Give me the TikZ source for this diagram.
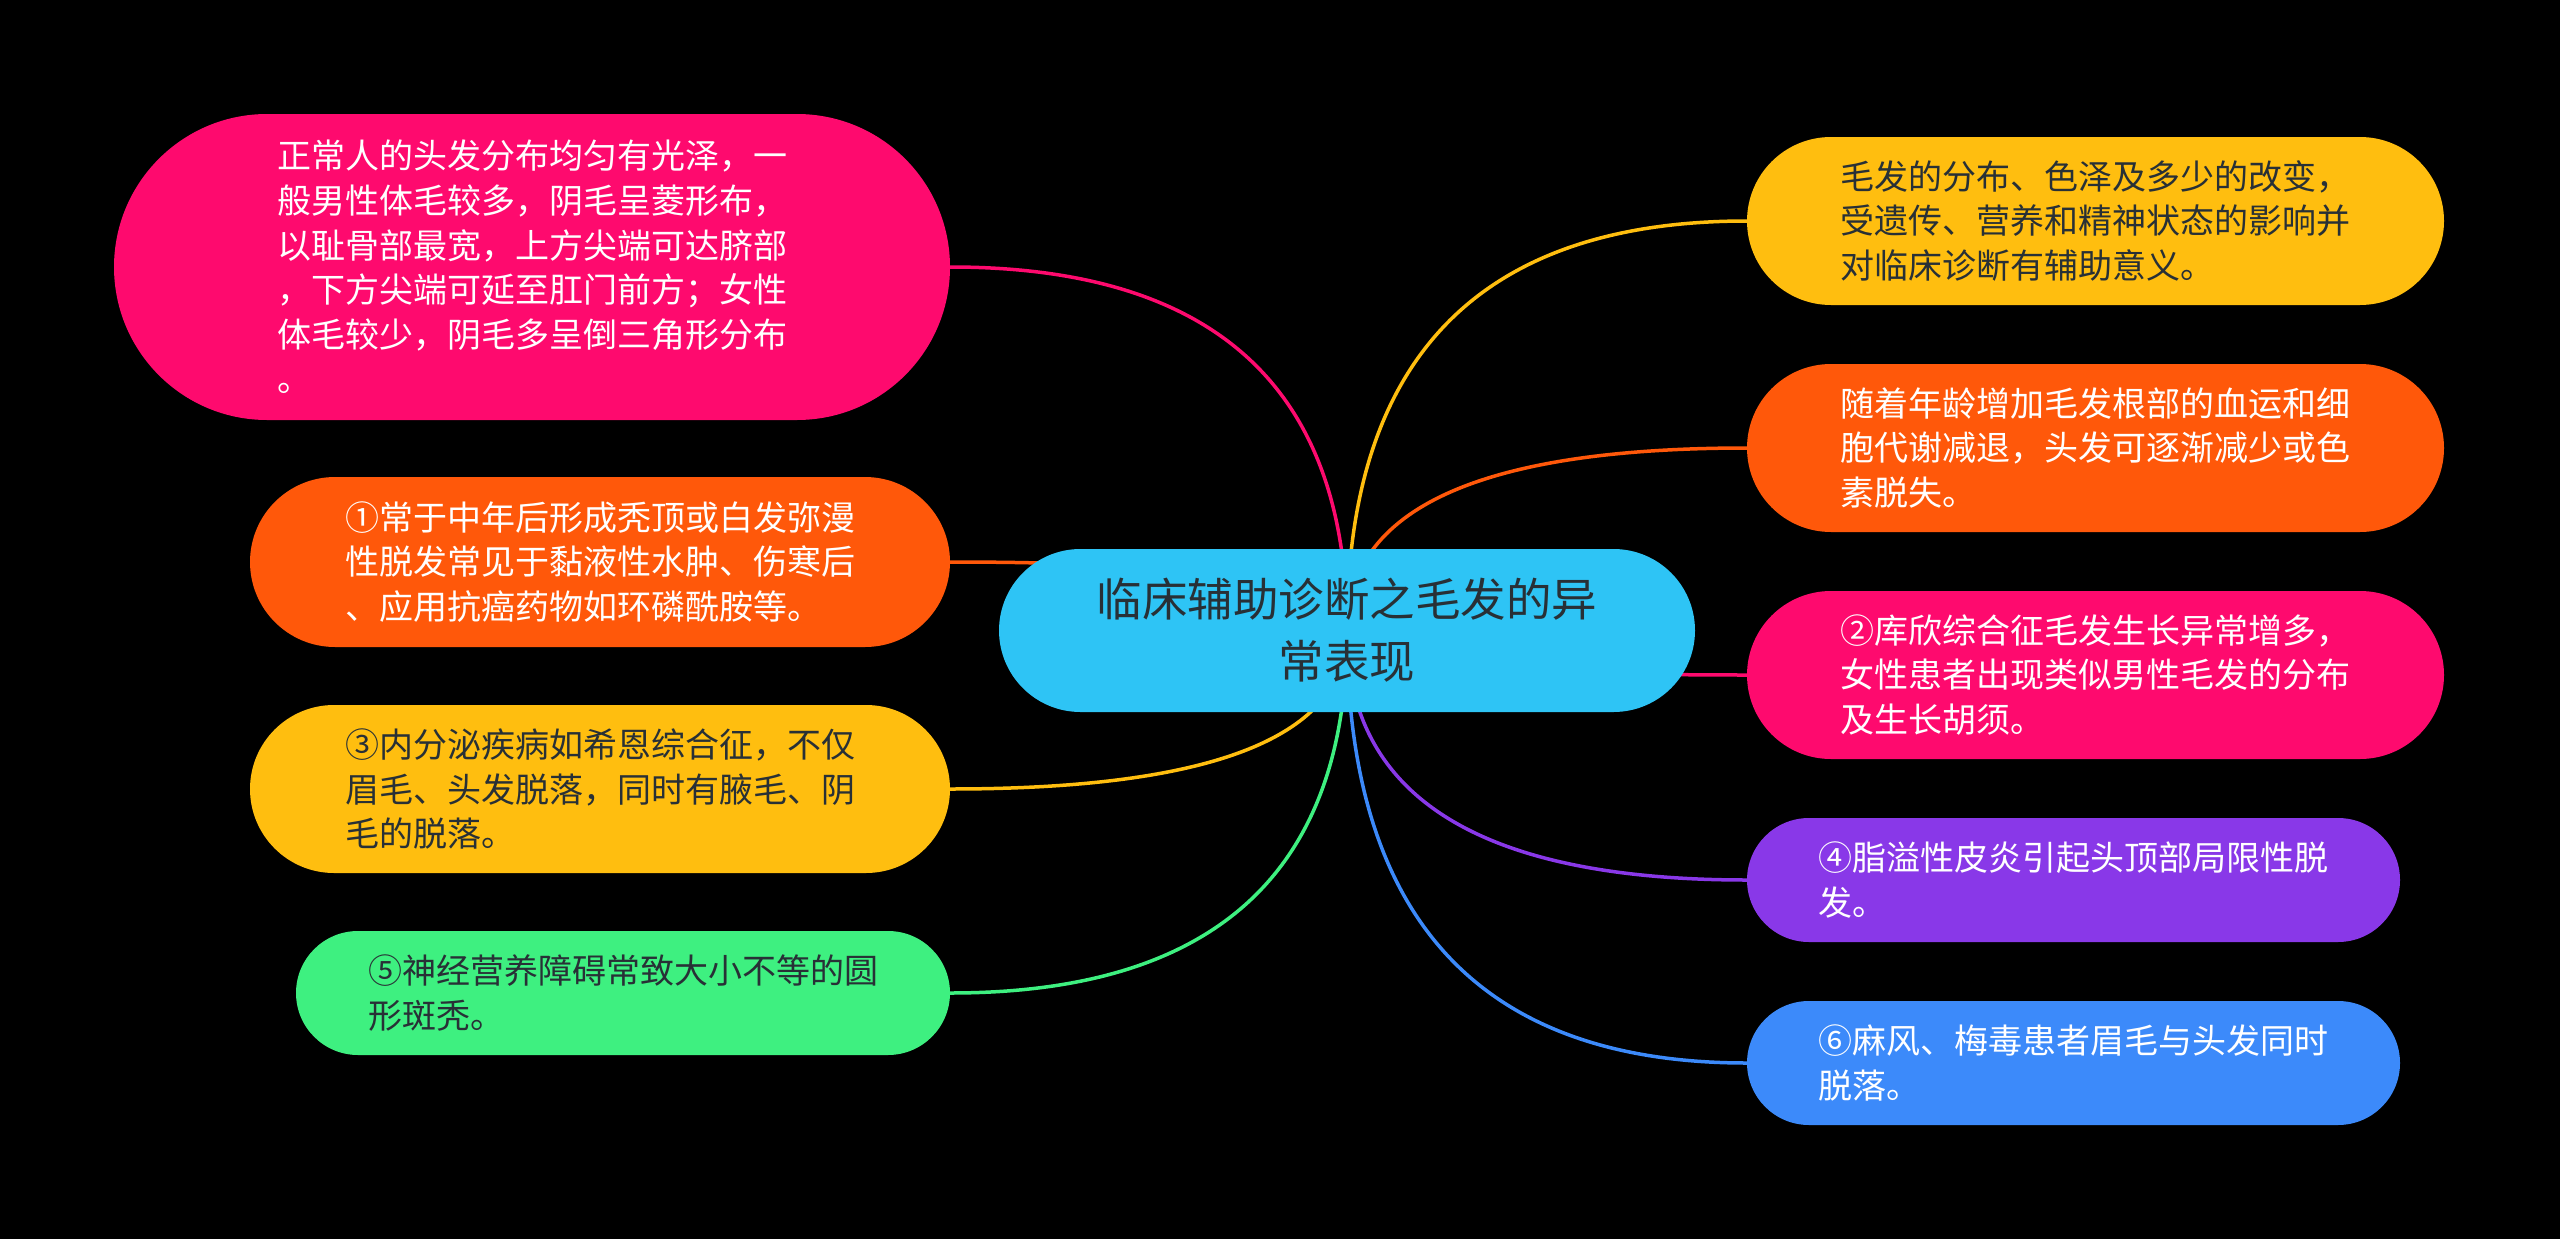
\documentclass[tikz,border=0pt]{standalone}
\usepackage{fontspec}
\setmainfont{Noto Sans CJK SC}
\usetikzlibrary{shapes.misc,calc}
\definecolor{rootblue}{RGB}{46,196,245}
\definecolor{mmpink}{RGB}{254,10,110}
\definecolor{mmorange}{RGB}{255,88,10}
\definecolor{mmyellow}{RGB}{255,190,15}
\definecolor{mmgreen}{RGB}{62,240,128}
\definecolor{mmpurple}{RGB}{137,56,232}
\definecolor{mmblue}{RGB}{60,138,250}
\definecolor{inkdark}{RGB}{40,48,54}
\pgfdeclarelayer{bg}
\pgfsetlayers{bg,main}
\tikzset{
  bubble/.style={rounded rectangle, inner sep=0pt, align=left,
    font=\fontsize{34}{44.6}\selectfont},
  twig/.style={line width=3.5pt},
}
\begin{document}
\begin{tikzpicture}[x=1pt,y=-1pt]
    \useasboundingbox (0,0) rectangle (2560,1239);
    % centre
    \node[rounded rectangle, inner sep=0pt, fill=rootblue, text=inkdark, align=center,
      font=\fontsize{45.5}{62}\selectfont, minimum width=696pt, minimum height=163pt]
      (root) at (1347,630.5) {临床辅助诊断之毛发的异\\常表现};
    % left side
    \node[bubble, fill=mmpink, text=white, minimum width=836pt, minimum height=306pt] (lA) at (532,267)
      {正常人的头发分布均匀有光泽，一\\般男性体毛较多，阴毛呈菱形布，\\以耻骨部最宽，上方尖端可达脐部\\，下方尖端可延至肛门前方；女性\\体毛较少，阴毛多呈倒三角形分布\\。};
    \node[bubble, fill=mmorange, text=white, minimum width=700pt, minimum height=170pt] (lB) at (600,562)
      {①常于中年后形成秃顶或白发弥漫\\性脱发常见于黏液性水肿、伤寒后\\、应用抗癌药物如环磷酰胺等。};
    \node[bubble, fill=mmyellow, text=inkdark, minimum width=700pt, minimum height=168pt] (lC) at (600,789)
      {③内分泌疾病如希恩综合征，不仅\\眉毛、头发脱落，同时有腋毛、阴\\毛的脱落。};
    \node[bubble, fill=mmgreen, text=inkdark, minimum width=654pt, minimum height=124pt] (lD) at (623,993)
      {⑤神经营养障碍常致大小不等的圆\\形斑秃。};
    % right side
    \node[bubble, fill=mmyellow, text=inkdark, minimum width=697pt, minimum height=168pt] (rA) at (2095.5,221)
      {毛发的分布、色泽及多少的改变，\\受遗传、营养和精神状态的影响并\\对临床诊断有辅助意义。};
    \node[bubble, fill=mmorange, text=white, minimum width=697pt, minimum height=168pt] (rB) at (2095.5,448)
      {随着年龄增加毛发根部的血运和细\\胞代谢减退，头发可逐渐减少或色\\素脱失。};
    \node[bubble, fill=mmpink, text=white, minimum width=697pt, minimum height=168pt] (rC) at (2095.5,675)
      {②库欣综合征毛发生长异常增多，\\女性患者出现类似男性毛发的分布\\及生长胡须。};
    \node[bubble, fill=mmpurple, text=white, minimum width=653pt, minimum height=124pt] (rD) at (2073.5,880)
      {④脂溢性皮炎引起头顶部局限性脱\\发。};
    \node[bubble, fill=mmblue, text=white, minimum width=653pt, minimum height=124pt] (rE) at (2073.5,1063)
      {⑥麻风、梅毒患者眉毛与头发同时\\脱落。};
    % branches, behind the bubbles
    \begin{pgfonlayer}{bg}
      \fill[black] (0,0) rectangle (2560,1239);
      \foreach \n/\c in {lA/mmpink,lB/mmorange,lC/mmyellow,lD/mmgreen} {
        \draw[twig,\c] (root.center) .. controls ($(root.center)!0.667!(root.center |- \n.east)$)
          and ($(\n.east)!0.667!(root.center |- \n.east)$) .. (\n.east);
      }
      \foreach \n/\c in {rA/mmyellow,rB/mmorange,rC/mmpink,rD/mmpurple,rE/mmblue} {
        \draw[twig,\c] (root.center) .. controls ($(root.center)!0.667!(root.center |- \n.west)$)
          and ($(\n.west)!0.667!(root.center |- \n.west)$) .. (\n.west);
      }
    \end{pgfonlayer}
  \end{tikzpicture}
\end{document}
